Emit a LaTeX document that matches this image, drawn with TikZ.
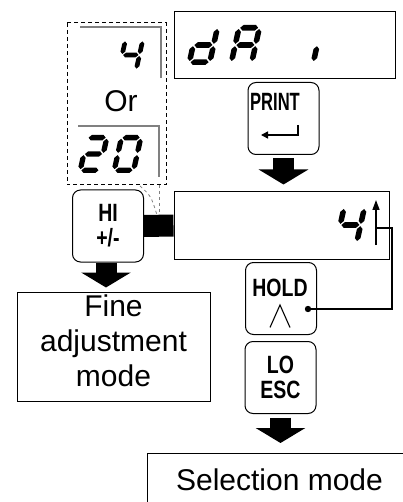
\documentclass[tikz,border=0pt]{standalone}
\usepackage{fontspec}
\setmainfont{Liberation Sans}
\newfontfamily\keyfont[FakeStretch=0.78]{Liberation Sans}
\usetikzlibrary{positioning,calc,arrows.meta}
\tikzset{keytext/.style={font=\keyfont\bfseries\fontsize{25}{25}\selectfont,align=center,inner sep=0pt}}
\tikzset{keybox/.style={keytext,draw,rounded corners=8pt,minimum width=71pt,minimum height=72pt,line width=1pt}}
\tikzset{dispbox/.style={draw,line width=1pt,minimum height=67pt,inner sep=0pt}}
\tikzset{modebox/.style={draw,line width=1pt,inner sep=0pt,align=center,font=\fontsize{30}{35}\selectfont}}
\tikzset{bigarrow/.style={line width=21pt,-{Triangle[length=15pt,width=49pt]}}}
\tikzset{thinline/.style={line width=1.5pt}}
% seven segment digits: one cell is 6.5 x 10
\newcommand\hseg[3]{\fill (#1,#3) -- (#1+0.7,#3+0.7) -- (#2-0.7,#3+0.7) -- (#2,#3) -- (#2-0.7,#3-0.7) -- (#1+0.7,#3-0.7) -- cycle;}
\newcommand\vseg[3]{\fill (#1,#2) -- (#1+0.7,#2+0.7) -- (#1+0.7,#3-0.7) -- (#1,#3) -- (#1-0.7,#3-0.7) -- (#1-0.7,#2+0.7) -- cycle;}
\newcommand\sega{\hseg{1}{5.5}{9.3}}
\newcommand\segg{\hseg{1}{5.5}{5}}
\newcommand\segd{\hseg{1}{5.5}{0.7}}
\newcommand\segf{\vseg{0.7}{5.3}{9}}
\newcommand\segb{\vseg{5.8}{5.3}{9}}
\newcommand\sege{\vseg{0.7}{1}{4.7}}
\newcommand\segc{\vseg{5.8}{1}{4.7}}
\newcommand\sevenseg[3]{%
  \begin{scope}[shift={#1},scale=#2,xslant=0.22]
    \foreach \s in {#3} {\csname seg\s\endcsname}
  \end{scope}}

\begin{document}
\begin{tikzpicture}[x=1pt,y=1pt]
  \useasboundingbox (0,0) rectangle (403,-502);

  % displays
  \node[dispbox,minimum width=221pt] (dispA) at (284.5,-45.5) {};
  \node[dispbox,minimum width=215pt] (dispB) at (281.5,-225.5) {};
  \sevenseg{(186,-65)}{4}{b,c,d,e,g}
  \sevenseg{(228,-65)}{4}{a,b,c,e,f,g}
  \sevenseg{(310,-65)}{4}{e}
  \sevenseg{(333,-245)}{4}{b,c,f,g}

  % choice of value
  \draw[dashed,line width=1pt,dash pattern=on 4pt off 3pt] (67,-23) rectangle (166,-185);
  \draw[gray,line width=1.5pt] (80,-27) -| (161,-78);
  \draw[gray,line width=1.5pt] (78,-126) -| (159,-177);
  \sevenseg{(116,-72)}{3.4}{b,c,f,g}
  \node[anchor=base,font=\fontsize{30}{35}\selectfont] (ortext) at (121,-112) {Or};
  \sevenseg{(77,-173)}{3.8}{a,b,d,e,g}
  \sevenseg{(111,-173)}{3.8}{a,b,c,d,e,f}

  % keys
  \node[keybox] (print) at (283.5,-118.5) {};
  \node[keytext] (printtxt) at (275,-102) {\scalebox{0.85}[1]{PRINT}};
  \draw[thinline,-{Triangle[length=7pt,width=7pt]}] ([shift={(14.5,-6.5)}]print.center) |- ([shift={(-22.5,-16.5)}]print.center);
  \node[keybox] (hi) at (108,-226) {HI\\+/-};
  \node[keybox] (hold) at (281,-298.5) {};
  \node[keytext] (holdtxt) at (280,-288) {HOLD};
  \draw[line width=1.1pt] ([shift={(-11,-29)}]hold.center) -- ([shift={(-1,-6.5)}]hold.center) -- ([shift={(9,-29)}]hold.center);
  \node[keybox] (lo) at (280.5,-377.5) {LO\\ESC};

  % modes
  \node[modebox,minimum width=193pt,minimum height=109pt,text depth=11pt] (fine) at (113.5,-346.5) {Fine\\adjustment\\mode};
  \node[modebox,minimum width=264pt,minimum height=52.5pt,anchor=north west] (select) at (147,-453) {Selection mode};

  % connectors
  \draw[line width=22pt] (hi.east) -- (dispB.west);
  \draw[gray,dashed,line width=0.8pt] (140,-186) .. controls (151,-196) .. (157,-215);
  \draw[gray,dashed,line width=0.8pt] (159,-185) -- (159,-215);
  \draw[bigarrow] ([yshift=-3.5pt]print.south) -- ([yshift=7pt]print.south |- dispB.north);
  \draw[bigarrow] ([xshift=-2pt]hi.south) -- ([xshift=-2pt,yshift=4pt]hi.south |- fine.north);
  \draw[bigarrow] ([yshift=-3.5pt]lo.south) -- ([yshift=10pt]lo.south |- select.north);

  \coordinate (upfoot) at (376,-245);
  \coordinate (uptip) at (376,-200);
  \coordinate (upmid) at (376,-228);
  \draw[thinline,-{Triangle[length=10pt,width=7pt]}] (upfoot) -- (uptip);
  \coordinate (holddot) at ([shift={(-9,-10.5)}]hold.east);
  \fill (holddot) circle (3.2pt);
  \draw[thinline] (holddot) -| ([xshift=16pt]upmid) -- (upmid);
\end{tikzpicture}
\end{document}
